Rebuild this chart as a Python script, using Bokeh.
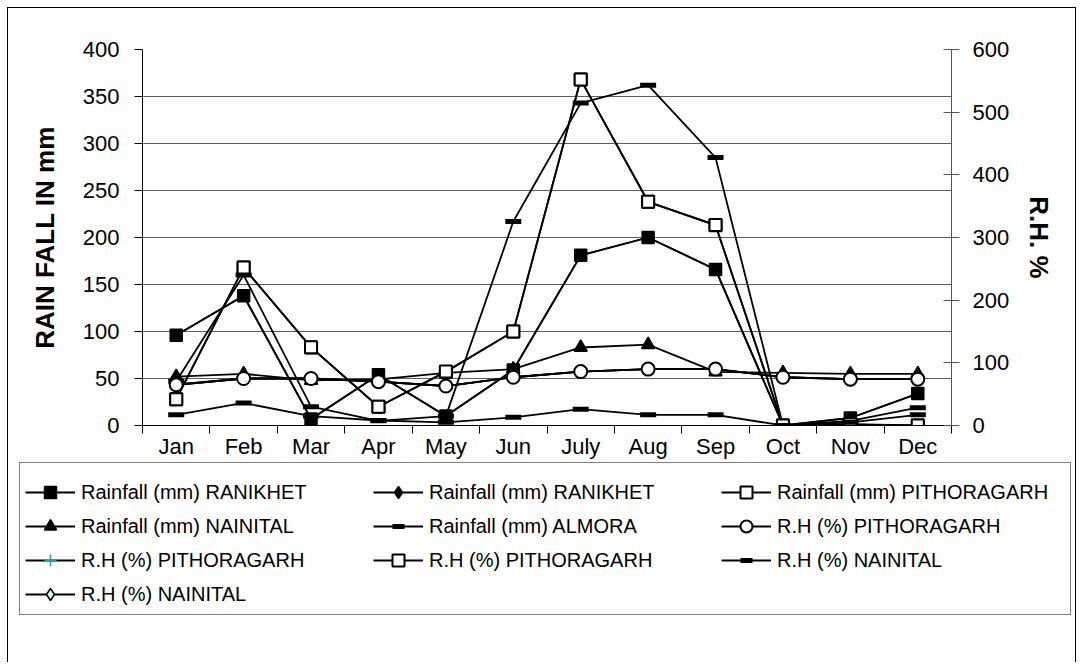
from bokeh.plotting import figure
from bokeh.layouts import column
from bokeh.models import Range1d, LinearAxis, FixedTicker, Legend, LegendItem
from bokeh.embed import file_html
from bokeh.resources import INLINE

months = ["Jan", "Feb", "Mar", "Apr", "May", "Jun", "July", "Aug", "Sep", "Oct", "Nov", "Dec"]

# Rainfall series (mm, left axis)
rain_ranikhet = [96, 138, 7, 54, 10, 59, 181, 200, 166, 0, 8, 34]
rain_ranikhet_2 = [96, 138, 7, 54, 10, 59, 181, 200, 166, 0, 8, 34]
rain_pithoragarh = [28, 168, 83, 20, 57, 100, 368, 238, 213, 0, 1, 0]
rain_nainital = [52, 55, 48, 49, 56, 60, 83, 86, 57, 56, 55, 55]
rain_almora = [47, 160, 20, 5, 10, 217, 343, 362, 285, 0, 5, 19]

# Relative humidity series (%, right axis)
rh_pithoragarh = [65, 75, 75, 70, 63, 77, 86, 90, 90, 77, 74, 74]
rh_pithoragarh_2 = [65, 75, 75, 70, 63, 77, 86, 90, 90, 77, 74, 74]
rh_pithoragarh_3 = [42, 252, 125, 30, 86, 150, 552, 357, 320, 0, 2, 0]
rh_nainital = [17, 36, 15, 8, 5, 13, 26, 17, 17, 0, 5, 17]
rh_nainital_2 = [65, 75, 75, 70, 63, 77, 86, 90, 90, 77, 74, 74]

left_ticks = [0, 50, 100, 150, 200, 250, 300, 350, 400]
right_ticks = [0, 100, 200, 300, 400, 500, 600]

FONT = "Liberation Sans"
x = [i + 0.5 for i in range(len(months))]

W = 1067
H1 = 453
p = figure(width=W, height=H1, output_backend="svg", toolbar_location=None,
           x_range=Range1d(0, len(months)), y_range=Range1d(0, 400),
           min_border_left=134, min_border_right=124, min_border_top=41, min_border_bottom=36)
p.extra_y_ranges = {"rh": Range1d(0, 600)}
p.outline_line_color = None
p.background_fill_color = "white"
p.border_fill_color = "white"

# grid
p.xgrid.visible = False
p.ygrid.ticker = FixedTicker(ticks=left_ticks)
p.ygrid.grid_line_color = "#5e5e5e"
p.ygrid.grid_line_width = 1

# x axis
xa = p.xaxis[0]
xa.ticker = FixedTicker(ticks=x, minor_ticks=list(range(len(months) + 1)))
xa.major_label_overrides = {xi: m for xi, m in zip(x, months)}
xa.major_tick_in = 0
xa.major_tick_out = 0
xa.minor_tick_in = 0
xa.minor_tick_out = 8
xa.minor_tick_line_color = "black"
xa.axis_line_color = "black"
xa.major_label_standoff = 0
xa.major_label_text_font = FONT
xa.major_label_text_font_size = "22px"
xa.major_label_text_color = "black"

# left axis
ya = p.yaxis[0]
ya.ticker = FixedTicker(ticks=left_ticks)
ya.major_tick_in = 0
ya.major_tick_out = 8
ya.minor_tick_out = 0
ya.minor_tick_in = 0
ya.axis_line_color = "black"
ya.major_tick_line_color = "black"
ya.major_label_standoff = 15
ya.major_label_text_font = FONT
ya.major_label_text_font_size = "22px"
ya.major_label_text_color = "black"
ya.axis_label = "RAIN FALL IN mm"
ya.axis_label_text_font = FONT
ya.axis_label_text_font_size = "26px"
ya.axis_label_text_font_style = "bold"
ya.axis_label_text_color = "black"
ya.axis_label_standoff = 20

# right axis
ra = LinearAxis(y_range_name="rh", ticker=FixedTicker(ticks=right_ticks))
ra.major_tick_in = 8
ra.major_tick_out = 8
ra.minor_tick_in = 0
ra.minor_tick_out = 0
ra.axis_line_color = "#555555"
ra.major_tick_line_color = "#555555"
ra.major_label_standoff = 13
ra.major_label_text_font = FONT
ra.major_label_text_font_size = "22px"
ra.major_label_text_color = "black"
ra.axis_label = "R.H. %"
ra.axis_label_text_font = FONT
ra.axis_label_text_font_size = "26px"
ra.axis_label_text_font_style = "bold"
ra.axis_label_text_color = "black"
ra.axis_label_standoff = 12
p.add_layout(ra, "right")

LW = 1.8

# (name, values, marker, size, fill, marker line colour, marker line width, y range)
specs = [
    ("R.H (%) NAINITAL", rh_nainital_2, "diamond", 11, "#ccffff", "black", 1.5, "rh"),
    ("R.H (%) PITHORAGARH", rh_pithoragarh_2, "cross", 9, None, "#2a9d9d", 1.5, "rh"),
    ("Rainfall (mm) RANIKHET", rain_ranikhet_2, "diamond", 11, "black", "black", 1.5, "default"),
    ("Rainfall (mm) RANIKHET", rain_ranikhet, "square", 12, "black", "black", 1.5, "default"),
    ("Rainfall (mm) PITHORAGARH", rain_pithoragarh, "square", 12, "white", "black", 2, "default"),
    ("Rainfall (mm) NAINITAL", rain_nainital, "triangle", 13, "black", "black", 1.5, "default"),
    ("Rainfall (mm) ALMORA", rain_almora, "dash", 16, "black", "black", 5, "default"),
    ("R.H (%) PITHORAGARH", rh_pithoragarh, "circle", 13, "white", "black", 2, "rh"),
    ("R.H (%) PITHORAGARH", rh_pithoragarh_3, "square", 12, "white", "black", 2, "rh"),
    ("R.H (%) NAINITAL", rh_nainital, "dash", 16, "black", "black", 5, "rh"),
]
for name, vals, mk, sz, fill, lc, mlw, yr in specs:
    p.line(x, vals, line_color="black", line_width=LW, y_range_name=yr)
    p.scatter(x, vals, marker=mk, size=sz, fill_color=fill, line_color=lc,
              line_width=mlw, y_range_name=yr)

# legend panel (separate figure below the chart); its series proxies lie outside its ranges
H2 = 654 - H1
p2 = figure(width=W, height=H2, output_backend="svg", toolbar_location=None,
            x_range=Range1d(-100, -99), y_range=Range1d(-100, -99),
            x_axis_location=None, y_axis_location=None,
            min_border_left=0, min_border_right=0, min_border_top=0, min_border_bottom=0)
p2.frame_align = False
p2.grid.visible = False
p2.outline_line_color = None
p2.background_fill_color = "white"
p2.border_fill_color = "white"

# legend order as in the reference (row by row)
legend_order = [3, 2, 4, 5, 6, 7, 1, 8, 9, 0]
items = []
for idx in legend_order:
    name, vals, mk, sz, fill, lc, mlw, yr = specs[idx]
    lr = p2.line(x, vals, line_color="black", line_width=LW)
    sr = p2.scatter(x, vals, marker=mk, size=sz, fill_color=fill, line_color=lc, line_width=mlw)
    items.append(LegendItem(label=name, renderers=[lr, sr]))

legend = Legend(items=items, location=(11, H2 - 154), orientation="horizontal", ncols=3,
                title=" ", title_text_font_size="8px", title_standoff=0,
                label_text_font=FONT, label_text_font_size="20px", label_text_color="black",
                glyph_width=50, glyph_height=30, label_height=30, label_width=288,
                label_standoff=6, spacing=4, padding=5, margin=0,
                border_line_color="black", border_line_width=1,
                background_fill_color="white", background_fill_alpha=1.0)
p2.add_layout(legend, "center")

layout = column(p, p2, spacing=0)
layout.styles = {"margin-left": "7px", "margin-top": "7px",
                 "border-top": "1px solid black", "border-left": "1px solid black",
                 "border-right": "1px solid black"}

open("out.html", "w").write(file_html(layout, INLINE))
